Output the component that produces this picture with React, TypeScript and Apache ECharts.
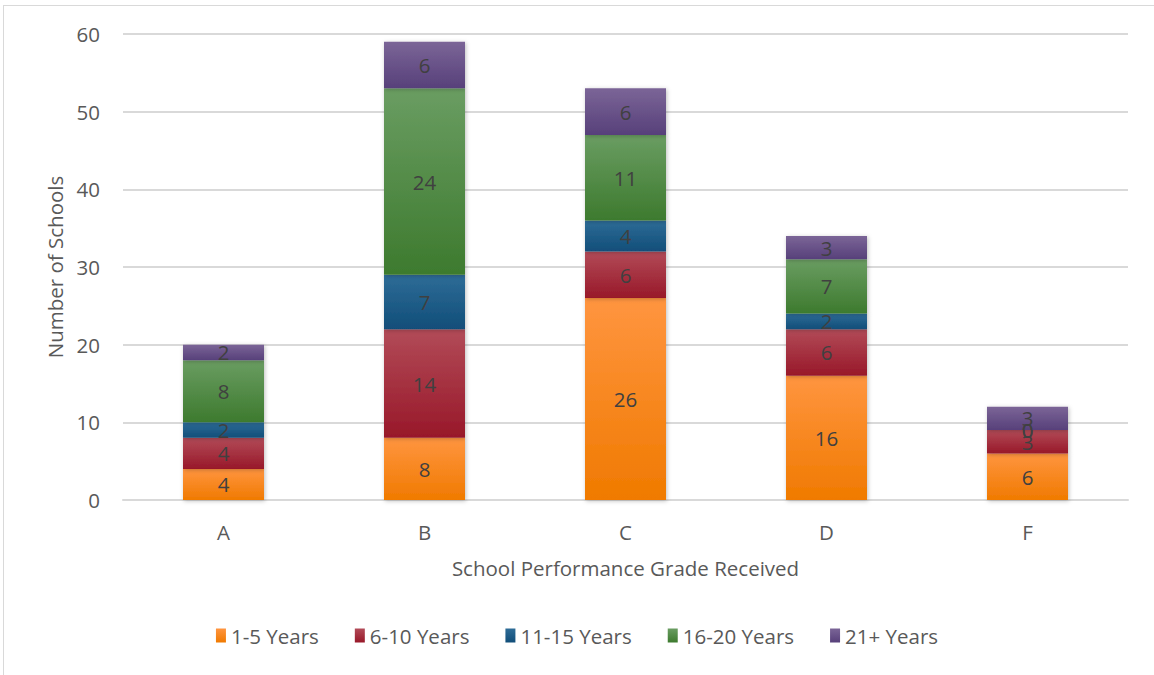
import React, { useEffect, useRef } from "react";
import * as echarts from "echarts";

const categories = ["A", "B", "C", "D", "F"];
const seriesNames = ["1-5 Years", "6-10 Years", "11-15 Years", "16-20 Years", "21+ Years"];
const years1to5 = [4, 8, 26, 16, 6];
const years6to10 = [4, 14, 6, 6, 3];
const years11to15 = [2, 7, 4, 2, 0];
const years16to20 = [8, 24, 11, 7, 0];
const years21plus = [2, 6, 6, 3, 3];
const yTicks = [0, 10, 20, 30, 40, 50, 60];

const palette = [
  ["#FF9540", "#F07A00"],
  ["#B24B58", "#981829"],
  ["#2E6C97", "#114E79"],
  ["#6A9D62", "#3D7A2E"],
  ["#7B6597", "#57407A"],
];

const FONT = "'Open Sans', 'Noto Sans', sans-serif";
const FS = 20.5;

function grad(c: string[]) {
  return new echarts.graphic.LinearGradient(0, 0, 0, 1, [
    { offset: 0, color: c[0] },
    { offset: 1, color: c[1] },
  ]);
}

export default function App() {
  const ref = useRef<HTMLDivElement>(null);
  useEffect(() => {
    if (!ref.current) return;
    const chart = echarts.init(ref.current, undefined, { renderer: "svg" });
    const values = [years1to5, years6to10, years11to15, years16to20, years21plus];
    chart.setOption({
      animation: false,
      textStyle: { fontFamily: FONT },
      grid: { left: 123, right: 26, top: 34, bottom: 175, containLabel: false },
      legend: {
        bottom: 24,
        left: "center",
        itemWidth: 10,
        itemHeight: 14,
        itemGap: 36,
        icon: "rect",
        textStyle: { fontSize: FS, color: "#595959", fontFamily: FONT },
        data: seriesNames,
      },
      xAxis: {
        type: "category",
        data: categories,
        name: "School Performance Grade Received",
        nameLocation: "middle",
        nameGap: 57,
        nameTextStyle: { fontSize: FS, color: "#595959" },
        axisLine: { show: true, lineStyle: { color: "#D9D9D9", width: 2 } },
        axisTick: { show: false },
        axisLabel: { fontSize: FS, color: "#595959", margin: 21 },
      },
      yAxis: {
        type: "value",
        min: yTicks[0],
        max: yTicks[yTicks.length - 1],
        interval: 10,
        name: "Number of Schools",
        nameLocation: "middle",
        nameGap: 54,
        nameTextStyle: { fontSize: FS, color: "#595959" },
        axisLine: { show: false },
        axisTick: { show: false },
        axisLabel: { fontSize: FS, color: "#595959", margin: 23 },
        splitLine: { lineStyle: { color: "#D9D9D9", width: 2 } },
      },
      series: seriesNames.map((name, i) => ({
        name,
        type: "bar",
        stack: "total",
        barWidth: 81,
        data: values[i],
        itemStyle: {
          color: grad(palette[i]),
          shadowBlur: 4,
          shadowColor: "rgba(0,0,0,0.25)",
          shadowOffsetX: 1,
          shadowOffsetY: 1,
        },
        label: {
          show: true,
          position: "inside",
          fontSize: FS,
          color: "#404040",
          fontFamily: FONT,
        },
      })),
    });
    return () => chart.dispose();
  }, []);
  return (
    <div style={{ position: "fixed", left: 0, top: 0, width: 1154, height: 675, background: "#fff", overflow: "hidden" }}>
      <div
        style={{
          position: "absolute",
          left: 3,
          top: 5,
          width: 1200,
          height: 700,
          border: "1.5px solid #D9D9D9",
          boxSizing: "border-box",
        }}
      />
      <div ref={ref} style={{ position: "absolute", left: 0, top: 0, width: 1154, height: 675 }} />
    </div>
  );
}
